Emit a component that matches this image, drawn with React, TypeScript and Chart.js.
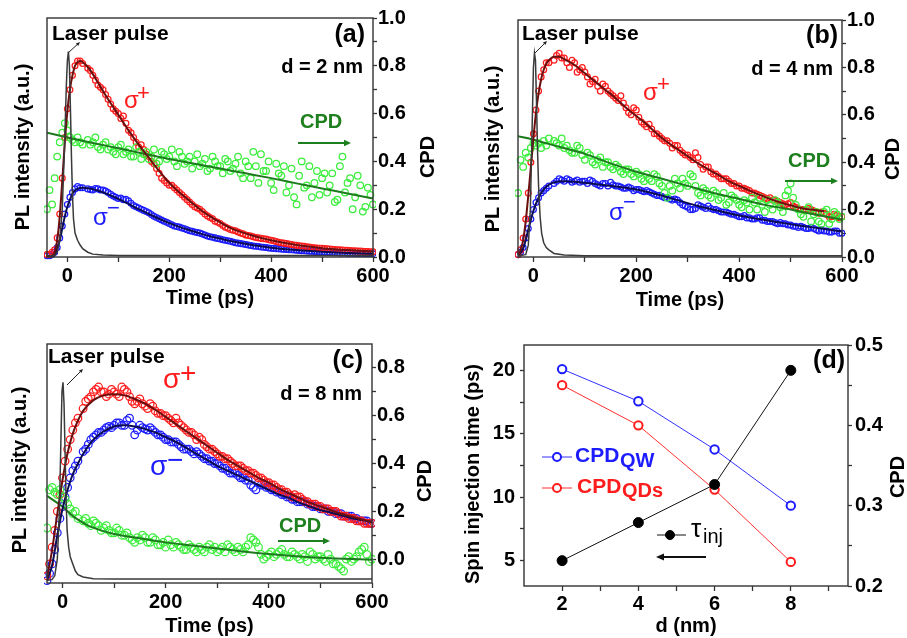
import React, { useEffect, useRef } from 'react';
import { Chart, registerables } from 'chart.js';

Chart.register(...registerables);

const FONT = 'Arial, "Liberation Sans", Helvetica, sans-serif';

// ---------------- DATA ----------------
// common tail of the time axis (ps) and the in-between sampling times
const T_TAIL = [40, 50, 60, 70, 80, 90, 100, 110, 120, 130, 140, 150, 160, 170, 180, 190, 200, 210, 220, 230, 240, 250, 260, 270, 280, 290, 300, 310, 320, 330, 340, 350, 360, 370, 380, 390, 400, 410, 420, 430, 440, 450, 460, 470, 480, 490, 500, 510, 520, 530, 540, 550, 560, 570, 580, 590, 600];
const T_HALF = [45, 55, 65, 75, 85, 95, 105, 115, 125, 135, 145, 155, 165, 175, 185, 195, 205, 215, 225, 235, 245, 255, 265, 275, 285, 295, 305, 315, 325, 335, 345, 355, 365, 375, 385, 395, 405, 415, 425, 435, 445, 455, 465, 475, 485, 495, 505, 515, 525, 535, 545, 555, 565, 575, 585, 595];

// tick values / labels
const X_TICKS_PS = [0, 100, 200, 300, 400, 500, 600];
const X_LABELS_PS = [0, 200, 400, 600];
const CPD_TICKS_AB = [0, 0.1, 0.2, 0.3, 0.4, 0.5, 0.6, 0.7, 0.8, 0.9, 1.0];
const CPD_LABELS_AB = [0, 0.2, 0.4, 0.6, 0.8, 1.0];
const CPD_TICKS_C = [0, 0.1, 0.2, 0.3, 0.4, 0.5, 0.6, 0.7, 0.8];
const CPD_LABELS_C = [0, 0.2, 0.4, 0.6, 0.8];
const D_X_TICKS = [2, 3, 4, 5, 6, 7, 8, 9];
const D_X_LABELS = [2, 4, 6, 8];
const D_TAU_TICKS = [5, 7.5, 10, 12.5, 15, 17.5, 20];
const D_TAU_LABELS = [5, 10, 15, 20];
const D_CPD_TICKS = [0.2, 0.25, 0.3, 0.35, 0.4, 0.45, 0.5];
const D_CPD_LABELS = [0.2, 0.3, 0.4, 0.5];

// ----- (a) d = 2 nm -----
const A_TIME = [-40, -35, -30, -25, -20, -15, -10, -5, 0, 5, 10, 15, 20, 25, 30, ...T_TAIL];
const A_SIGP = [0.01, 0.01, 0.02, 0.03, 0.08, 0.18, 0.33, 0.50, 0.62, 0.70, 0.76, 0.80, 0.82, 0.82, 0.81,
  0.79, 0.76, 0.72, 0.70, 0.66, 0.62,
  0.60, 0.59, 0.53, 0.50, 0.46, 0.45, 0.42, 0.39, 0.35, 0.32,
  0.30, 0.29, 0.27, 0.25, 0.23, 0.21, 0.20, 0.18, 0.165, 0.15,
  0.14, 0.125, 0.115, 0.11, 0.10, 0.092, 0.088, 0.082, 0.078, 0.075,
  0.07, 0.065, 0.06, 0.056, 0.052, 0.049, 0.046, 0.043, 0.04, 0.038,
  0.036, 0.034, 0.032, 0.03, 0.029, 0.028, 0.026, 0.025, 0.024, 0.023,
  0.022];
const A_SIGP_HALF = [0.78, 0.74, 0.71, 0.68, 0.64, 0.61,
  0.58, 0.56, 0.52, 0.48, 0.47, 0.43, 0.40, 0.37, 0.33, 0.31,
  0.30, 0.28, 0.26, 0.24, 0.22, 0.205, 0.19, 0.172, 0.16, 0.145,
  0.132, 0.12, 0.112, 0.105, 0.097, 0.09, 0.085, 0.08, 0.076, 0.072,
  0.068, 0.062, 0.058, 0.054, 0.05, 0.047, 0.045, 0.042, 0.039, 0.037,
  0.035, 0.033, 0.031, 0.03, 0.028, 0.027, 0.026, 0.025, 0.023, 0.022];
const A_SIGM = [0.005, 0.005, 0.01, 0.02, 0.04, 0.08, 0.13, 0.18, 0.22, 0.25, 0.27, 0.285, 0.295, 0.29, 0.29,
  0.285, 0.28, 0.285, 0.28, 0.27, 0.255,
  0.245, 0.24, 0.235, 0.215, 0.205, 0.195, 0.185, 0.17, 0.16, 0.15,
  0.14, 0.13, 0.125, 0.118, 0.11, 0.105, 0.1, 0.092, 0.085, 0.08,
  0.075, 0.07, 0.066, 0.06, 0.056, 0.052, 0.048, 0.045, 0.042, 0.04,
  0.037, 0.035, 0.033, 0.031, 0.03, 0.028, 0.026, 0.025, 0.024, 0.022,
  0.021, 0.02, 0.019, 0.018, 0.017, 0.016, 0.016, 0.015, 0.015, 0.014,
  0.014];
const A_SIGM_HALF = [0.282, 0.287, 0.28, 0.276, 0.262, 0.25,
  0.247, 0.242, 0.225, 0.21, 0.2, 0.19, 0.178, 0.165, 0.155, 0.145,
  0.135, 0.128, 0.121, 0.114, 0.108, 0.102, 0.096, 0.088, 0.083, 0.077,
  0.072, 0.068, 0.063, 0.058, 0.054, 0.05, 0.046, 0.044, 0.041, 0.038,
  0.036, 0.034, 0.032, 0.03, 0.029, 0.027, 0.026, 0.024, 0.023, 0.022,
  0.02, 0.019, 0.018, 0.017, 0.017, 0.016, 0.015, 0.015, 0.014, 0.014];
const A_CPD = [0.20, 0.28, 0.22, 0.33, 0.42, 0.48, 0.52, 0.56, 0.53, 0.50, 0.49, 0.48, 0.50, 0.48, 0.47,
  0.49, 0.48, 0.46, 0.47, 0.45, 0.44,
  0.46, 0.43, 0.45, 0.42, 0.44, 0.43, 0.41, 0.45, 0.40, 0.43,
  0.42, 0.40, 0.44, 0.39, 0.42, 0.40, 0.38, 0.41, 0.37, 0.40,
  0.38, 0.41, 0.36, 0.39, 0.35, 0.40, 0.33, 0.38, 0.43, 0.36,
  0.31, 0.39, 0.34, 0.27, 0.37, 0.22, 0.40, 0.30, 0.25, 0.36,
  0.33, 0.27, 0.35, 0.24, 0.42, 0.31, 0.20, 0.34, 0.19, 0.29,
  0.22];
const A_CPD_HALF = [0.47, 0.50, 0.45, 0.48, 0.46, 0.43,
  0.47, 0.44, 0.42, 0.46, 0.41, 0.44, 0.42, 0.39, 0.44, 0.41,
  0.45, 0.38, 0.42, 0.40, 0.37, 0.43, 0.39, 0.36, 0.42, 0.38,
  0.35, 0.40, 0.37, 0.42, 0.33, 0.38, 0.44, 0.31, 0.36, 0.40,
  0.28, 0.35, 0.38, 0.30, 0.25, 0.34, 0.29, 0.38, 0.31, 0.26,
  0.35, 0.30, 0.23, 0.38, 0.27, 0.33, 0.25, 0.30, 0.21, 0.26];
const A_FIT_T = [-40, -30, -25, -20, -15, -10, -5, 0, 5, 10, 15, 20, 25, 30, 40, 50, 60, 80, 100, 120, 140, 160, 180, 200, 220, 240, 260, 280, 300, 320, 340, 360, 380, 400, 450, 500, 550, 600];
const A_SIGP_FIT = [0, 0.005, 0.02, 0.07, 0.17, 0.32, 0.48, 0.61, 0.70, 0.76, 0.80, 0.815, 0.82, 0.815, 0.795, 0.765, 0.73, 0.66, 0.595, 0.53, 0.47, 0.415, 0.36, 0.31, 0.27, 0.235, 0.2, 0.17, 0.145, 0.122, 0.105, 0.092, 0.08, 0.07, 0.05, 0.037, 0.029, 0.023];
const A_SIGM_FIT = [0, 0.003, 0.01, 0.035, 0.07, 0.12, 0.17, 0.21, 0.24, 0.265, 0.278, 0.285, 0.289, 0.29, 0.288, 0.284, 0.278, 0.262, 0.243, 0.222, 0.2, 0.18, 0.16, 0.142, 0.126, 0.112, 0.099, 0.087, 0.077, 0.067, 0.059, 0.051, 0.045, 0.039, 0.029, 0.022, 0.017, 0.014];
const A_CPD_FIT_T = [-40, 0, 50, 100, 150, 200, 250, 300, 350, 400, 450, 500, 550, 600];
const A_CPD_FIT = [0.52, 0.50, 0.477, 0.455, 0.432, 0.41, 0.39, 0.37, 0.35, 0.33, 0.308, 0.287, 0.266, 0.245];
const A_LASER_T = [-40, -25, -20, -15, -10, -5, -2, 0, 2, 4, 6, 8, 10, 12, 15, 20, 25, 30, 40, 50, 70, 100, 600];
const A_LASER = [0.005, 0.005, 0.02, 0.07, 0.2, 0.5, 0.72, 0.82, 0.86, 0.8, 0.62, 0.42, 0.26, 0.16, 0.1, 0.07, 0.05, 0.035, 0.02, 0.012, 0.008, 0.006, 0.006];

// ----- (b) d = 4 nm -----
const B_TIME = [-30, -25, -20, -15, -10, -5, 0, 5, 10, 15, 20, 25, 30, ...T_TAIL];
const B_SIGP = [0.01, 0.03, 0.08, 0.16, 0.27, 0.40, 0.52, 0.62, 0.70, 0.76, 0.79, 0.82, 0.82,
  0.83, 0.86, 0.84, 0.80, 0.82, 0.79,
  0.78, 0.73, 0.75, 0.70, 0.72, 0.69, 0.67, 0.68, 0.63, 0.60,
  0.62, 0.57, 0.55, 0.54, 0.52, 0.50, 0.49, 0.46, 0.47, 0.44,
  0.43, 0.41, 0.42, 0.37, 0.38, 0.35, 0.34, 0.33, 0.32, 0.31,
  0.30, 0.29, 0.28, 0.27, 0.26, 0.25, 0.25, 0.24, 0.23, 0.22,
  0.23, 0.21, 0.20, 0.20, 0.20, 0.19, 0.19, 0.18, 0.17, 0.175,
  0.17];
const B_SIGP_HALF = [0.85, 0.84, 0.82, 0.83, 0.78, 0.80,
  0.76, 0.74, 0.72, 0.73, 0.70, 0.68, 0.66, 0.65, 0.61, 0.63,
  0.59, 0.56, 0.56, 0.52, 0.51, 0.49, 0.48, 0.47, 0.45, 0.43,
  0.42, 0.44, 0.39, 0.38, 0.36, 0.35, 0.33, 0.33, 0.31, 0.30,
  0.29, 0.285, 0.27, 0.265, 0.255, 0.245, 0.24, 0.235, 0.225, 0.225,
  0.215, 0.205, 0.2, 0.205, 0.195, 0.185, 0.185, 0.17, 0.18, 0.165];
const B_SIGM = [0.01, 0.02, 0.04, 0.08, 0.12, 0.16, 0.20, 0.23, 0.25, 0.27, 0.28, 0.29, 0.30,
  0.31, 0.33, 0.32, 0.325, 0.32, 0.315,
  0.32, 0.325, 0.31, 0.30, 0.31, 0.315, 0.30, 0.295, 0.29, 0.29,
  0.285, 0.28, 0.28, 0.27, 0.26, 0.255, 0.25, 0.24, 0.24, 0.22,
  0.21, 0.20, 0.22, 0.21, 0.215, 0.20, 0.195, 0.19, 0.185, 0.18,
  0.17, 0.175, 0.165, 0.16, 0.165, 0.155, 0.15, 0.145, 0.145, 0.14,
  0.135, 0.13, 0.13, 0.12, 0.125, 0.115, 0.115, 0.11, 0.105, 0.11,
  0.10];
const B_SIGM_HALF = [0.32, 0.325, 0.33, 0.315, 0.325, 0.32,
  0.31, 0.32, 0.305, 0.31, 0.30, 0.305, 0.3, 0.29, 0.295, 0.28,
  0.285, 0.275, 0.275, 0.265, 0.26, 0.25, 0.245, 0.245, 0.23, 0.215,
  0.2, 0.205, 0.215, 0.205, 0.205, 0.2, 0.19, 0.19, 0.18, 0.175,
  0.17, 0.165, 0.16, 0.165, 0.155, 0.15, 0.15, 0.14, 0.14, 0.135,
  0.13, 0.125, 0.125, 0.12, 0.12, 0.11, 0.11, 0.105, 0.11, 0.10];
const B_CPD = [0.27, 0.41, 0.38, 0.44, 0.42, 0.46, 0.48, 0.47, 0.48, 0.46, 0.49, 0.47, 0.50,
  0.49, 0.47, 0.46, 0.45, 0.44, 0.46,
  0.41, 0.43, 0.39, 0.42, 0.40, 0.38, 0.39, 0.36, 0.37, 0.35,
  0.36, 0.33, 0.35, 0.32, 0.34, 0.30, 0.25, 0.28, 0.31, 0.33,
  0.30, 0.34, 0.27, 0.29, 0.26, 0.28, 0.24, 0.27, 0.23, 0.25,
  0.22, 0.24, 0.20, 0.23, 0.25, 0.19, 0.22, 0.24, 0.21, 0.26,
  0.31, 0.22, 0.18, 0.20, 0.15, 0.19, 0.14, 0.20, 0.16, 0.18,
  0.17];
const B_CPD_HALF = [0.48, 0.50, 0.47, 0.44, 0.47, 0.43,
  0.44, 0.40, 0.41, 0.38, 0.40, 0.37, 0.38, 0.35, 0.37, 0.34,
  0.35, 0.32, 0.33, 0.35, 0.31, 0.27, 0.30, 0.33, 0.29, 0.31,
  0.35, 0.30, 0.26, 0.28, 0.25, 0.27, 0.25, 0.22, 0.26, 0.24,
  0.21, 0.23, 0.25, 0.20, 0.22, 0.24, 0.20, 0.23, 0.19, 0.28,
  0.25, 0.20, 0.17, 0.21, 0.18, 0.15, 0.19, 0.14, 0.19, 0.16];
const B_SIGP_FIT_T = [-30, -25, -20, -15, -10, -5, 0, 5, 10, 15, 20, 25, 30, 40, 50, 60, 80, 100, 120, 140, 160, 180, 200, 220, 240, 260, 280, 300, 320, 340, 360, 380, 400, 420, 440, 460, 480, 500, 520, 540, 565];
const B_SIGP_FIT = [0.005, 0.03, 0.07, 0.15, 0.26, 0.38, 0.50, 0.61, 0.69, 0.75, 0.79, 0.815, 0.83, 0.845, 0.845, 0.835, 0.81, 0.775, 0.74, 0.705, 0.67, 0.63, 0.595, 0.56, 0.52, 0.485, 0.455, 0.425, 0.395, 0.37, 0.345, 0.32, 0.3, 0.28, 0.262, 0.245, 0.23, 0.218, 0.207, 0.2, 0.193];
const B_SIGM_FIT_T = [-30, -20, -10, 0, 10, 20, 30, 40, 60, 80, 100, 130, 160, 200, 240, 280, 320, 360, 400, 440, 480, 520, 560, 600];
const B_SIGM_FIT = [0.005, 0.035, 0.115, 0.195, 0.25, 0.285, 0.305, 0.315, 0.32, 0.318, 0.313, 0.305, 0.297, 0.285, 0.265, 0.24, 0.215, 0.195, 0.175, 0.16, 0.145, 0.132, 0.12, 0.108];
const B_CPD_FIT_T = [-30, 0, 50, 100, 150, 200, 250, 300, 350, 400, 450, 500, 550, 600];
const B_CPD_FIT = [0.51, 0.495, 0.465, 0.435, 0.395, 0.36, 0.33, 0.30, 0.27, 0.245, 0.22, 0.20, 0.178, 0.158];
const B_LASER_T = [-30, -15, -10, -6, -3, 0, 2, 4, 6, 8, 10, 13, 16, 20, 25, 30, 40, 60, 100, 600];
const B_LASER = [0.005, 0.01, 0.05, 0.2, 0.5, 0.8, 0.86, 0.83, 0.65, 0.45, 0.3, 0.17, 0.1, 0.06, 0.04, 0.03, 0.015, 0.008, 0.005, 0.005];

// ----- (c) d = 8 nm -----
const C_TIME = [-30, -25, -20, -15, -10, -5, 0, 5, 10, 15, 20, 25, 30, ...T_TAIL];
const C_SIGP = [0.03, 0.08, 0.15, 0.22, 0.30, 0.37, 0.44, 0.51, 0.56, 0.60, 0.64, 0.67, 0.69,
  0.73, 0.77, 0.80, 0.82, 0.80, 0.79,
  0.80, 0.78, 0.81, 0.78, 0.75, 0.77, 0.74, 0.75, 0.72, 0.71,
  0.70, 0.68, 0.69, 0.66, 0.64, 0.63, 0.60, 0.60, 0.57, 0.56,
  0.54, 0.53, 0.52, 0.50, 0.49, 0.48, 0.47, 0.46, 0.44, 0.43,
  0.42, 0.41, 0.39, 0.38, 0.37, 0.37, 0.36, 0.34, 0.33, 0.33,
  0.32, 0.31, 0.30, 0.30, 0.28, 0.28, 0.27, 0.26, 0.26, 0.25,
  0.25];
const C_SIGP_HALF = [0.76, 0.78, 0.81, 0.80, 0.78, 0.81,
  0.79, 0.82, 0.80, 0.76, 0.76, 0.75, 0.73, 0.74, 0.71, 0.70,
  0.69, 0.67, 0.67, 0.65, 0.63, 0.62, 0.61, 0.58, 0.56, 0.55,
  0.53, 0.52, 0.51, 0.49, 0.49, 0.47, 0.46, 0.45, 0.44, 0.42,
  0.41, 0.40, 0.39, 0.38, 0.36, 0.36, 0.35, 0.34, 0.33, 0.32,
  0.31, 0.31, 0.30, 0.29, 0.28, 0.27, 0.27, 0.26, 0.25, 0.25];
const C_SIGM = [0.01, 0.04, 0.08, 0.14, 0.21, 0.27, 0.32, 0.36, 0.40, 0.44, 0.47, 0.49, 0.51,
  0.55, 0.58, 0.61, 0.63, 0.64, 0.655,
  0.66, 0.67, 0.66, 0.69, 0.62, 0.66, 0.645, 0.65, 0.63, 0.62,
  0.60, 0.59, 0.59, 0.57, 0.56, 0.55, 0.55, 0.53, 0.52, 0.51,
  0.50, 0.48, 0.47, 0.46, 0.45, 0.44, 0.43, 0.40, 0.42, 0.41,
  0.40, 0.39, 0.38, 0.37, 0.36, 0.35, 0.34, 0.34, 0.33, 0.32,
  0.31, 0.31, 0.30, 0.29, 0.29, 0.28, 0.28, 0.27, 0.26, 0.26,
  0.25];
const C_SIGM_HALF = [0.56, 0.60, 0.62, 0.63, 0.65, 0.65,
  0.67, 0.66, 0.68, 0.66, 0.64, 0.65, 0.64, 0.64, 0.62, 0.61,
  0.60, 0.59, 0.58, 0.56, 0.56, 0.54, 0.54, 0.52, 0.51, 0.50,
  0.49, 0.48, 0.46, 0.46, 0.44, 0.43, 0.41, 0.39, 0.41, 0.40,
  0.39, 0.38, 0.37, 0.36, 0.35, 0.34, 0.34, 0.33, 0.32, 0.32,
  0.31, 0.30, 0.30, 0.29, 0.28, 0.28, 0.27, 0.26, 0.26, 0.25];
const C_CPD = [0.13, 0.29, 0.30, 0.28, 0.27, 0.29, 0.26, 0.25, 0.23, 0.21, 0.19, 0.20, 0.17,
  0.16, 0.15, 0.16, 0.14, 0.13, 0.12,
  0.11, 0.12, 0.10, 0.09, 0.07, 0.08, 0.09, 0.07, 0.08, 0.06,
  0.05, 0.06, 0.07, 0.05, 0.04, 0.05, 0.03, 0.04, 0.05, 0.04,
  0.03, 0.05, 0.06, 0.04, 0.05, 0.03, 0.06, 0.08, 0.05, 0.00,
  0.02, 0.01, 0.03, 0.02, 0.01, 0.02, 0.00, 0.01, 0.03, 0.00,
  0.01, -0.01, 0.00, -0.02, -0.04, 0.00, -0.01, 0.01, 0.04, 0.02,
  0.00];
const C_CPD_HALF = [0.17, 0.14, 0.15, 0.12, 0.14, 0.11,
  0.13, 0.10, 0.11, 0.08, 0.09, 0.10, 0.07, 0.09, 0.06, 0.07,
  0.08, 0.05, 0.06, 0.04, 0.06, 0.04, 0.05, 0.03, 0.06, 0.05,
  0.04, 0.03, 0.05, 0.03, 0.04, 0.05, 0.09, 0.07, 0.02, 0.01,
  0.03, 0.02, 0.04, 0.01, 0.03, 0.01, 0.02, -0.01, 0.02, 0.01,
  0.00, 0.02, -0.02, -0.03, -0.05, 0.01, 0.00, 0.03, 0.05, -0.01];
const C_FIT_T = [-30, -20, -10, 0, 10, 20, 30, 40, 60, 80, 100, 120, 140, 160, 180, 200, 220, 240, 260, 280, 300, 320, 340, 360, 380, 400, 420, 440, 460, 480, 500, 520, 540, 560, 580, 600];
const C_SIGP_FIT = [0.02, 0.14, 0.29, 0.43, 0.545, 0.625, 0.68, 0.72, 0.765, 0.785, 0.79, 0.785, 0.77, 0.75, 0.725, 0.695, 0.665, 0.635, 0.605, 0.575, 0.545, 0.515, 0.49, 0.465, 0.44, 0.42, 0.395, 0.375, 0.355, 0.335, 0.32, 0.305, 0.29, 0.278, 0.266, 0.255];
const C_SIGM_FIT = [0.01, 0.075, 0.2, 0.31, 0.39, 0.455, 0.5, 0.54, 0.6, 0.635, 0.655, 0.66, 0.655, 0.645, 0.63, 0.61, 0.59, 0.565, 0.54, 0.515, 0.49, 0.47, 0.45, 0.43, 0.41, 0.39, 0.37, 0.355, 0.335, 0.32, 0.305, 0.295, 0.283, 0.272, 0.263, 0.255];
const C_CPD_FIT_T = [-30, -20, -10, 0, 10, 20, 30, 50, 75, 100, 140, 200, 260, 330, 400, 460, 530, 600];
const C_CPD_FIT = [0.265, 0.25, 0.235, 0.22, 0.2, 0.18, 0.165, 0.14, 0.12, 0.105, 0.09, 0.07, 0.055, 0.037, 0.021, 0.011, 0.003, -0.003];
const C_LASER_T = [-30, -20, -15, -10, -6, -3, -1, 1, 3, 5, 7, 9, 12, 15, 20, 25, 30, 40, 60, 100, 600];
const C_LASER = [0.01, 0.015, 0.03, 0.1, 0.3, 0.6, 0.8, 0.84, 0.75, 0.55, 0.35, 0.22, 0.15, 0.11, 0.08, 0.05, 0.035, 0.025, 0.018, 0.017, 0.017];

// ----- (d) -----
const D_THICKNESS = [2, 4, 6, 8];
const D_CPD_QW = [0.47, 0.43, 0.37, 0.30];
const D_CPD_QDS = [0.45, 0.40, 0.32, 0.23];
const D_TAU_INJ = [5, 8, 11, 20];

// ---------------- STYLE ----------------
const COL = {
  red: '#ff1c1c', redFit: '#6a0e0e', blue: '#1c1cff', blueFit: '#0c0c52',
  green: '#3ded3d', greenFit: '#1d7a1d', greenText: '#1e7f1e', laser: '#3a3a3a', frame: '#333333',
};

const xy = (xs: number[], ys: number[]) => xs.map((x, i) => ({ x, y: ys[i] }));

type Note =
  | { k: 't'; s: string; x: number; y: number; f: number; b?: boolean; c?: string; a?: CanvasTextAlign; r?: number }
  | { k: 'a'; x1: number; y1: number; x2: number; y2: number; c: string; w: number; h: number }
  | { k: 'l'; x1: number; y1: number; x2: number; y2: number; c: string; w: number }
  | { k: 'o'; x: number; y: number; r: number; c: string; fill: string; w: number };

function notesPlugin(notes: Note[]) {
  return {
    id: 'notes',
    afterDraw(chart: any) {
      const ctx: CanvasRenderingContext2D = chart.ctx;
      for (const n of notes) {
        ctx.save();
        if (n.k === 't') {
          ctx.fillStyle = n.c || '#000';
          ctx.font = `${n.b ? 'bold ' : ''}${n.f}px ${FONT}`;
          ctx.textAlign = n.a || 'left';
          if (n.r) {
            ctx.translate(n.x, n.y);
            ctx.rotate((n.r * Math.PI) / 180);
            ctx.textAlign = 'center';
            ctx.textBaseline = 'middle';
            ctx.fillText(n.s, 0, 0);
          } else {
            ctx.textBaseline = 'alphabetic';
            ctx.fillText(n.s, n.x, n.y);
          }
        } else if (n.k === 'l') {
          ctx.strokeStyle = n.c; ctx.lineWidth = n.w;
          ctx.beginPath(); ctx.moveTo(n.x1, n.y1); ctx.lineTo(n.x2, n.y2); ctx.stroke();
        } else if (n.k === 'a') {
          const ang = Math.atan2(n.y2 - n.y1, n.x2 - n.x1);
          const bx = n.x2 - n.h * Math.cos(ang), by = n.y2 - n.h * Math.sin(ang);
          ctx.strokeStyle = n.c; ctx.fillStyle = n.c; ctx.lineWidth = n.w;
          ctx.beginPath(); ctx.moveTo(n.x1, n.y1); ctx.lineTo(bx, by); ctx.stroke();
          const hw = n.h * 0.45;
          ctx.beginPath();
          ctx.moveTo(n.x2, n.y2);
          ctx.lineTo(bx + hw * Math.sin(ang), by - hw * Math.cos(ang));
          ctx.lineTo(bx - hw * Math.sin(ang), by + hw * Math.cos(ang));
          ctx.closePath(); ctx.fill();
        } else if (n.k === 'o') {
          ctx.beginPath(); ctx.arc(n.x, n.y, n.r, 0, Math.PI * 2);
          ctx.fillStyle = n.fill; ctx.fill();
          ctx.strokeStyle = n.c; ctx.lineWidth = n.w; ctx.stroke();
        }
        ctx.restore();
      }
    },
  };
}

const framePlugin = {
  id: 'frame',
  afterDatasetsDraw(chart: any) {
    const { ctx, chartArea } = chart;
    const { left, top, right, bottom } = chartArea;
    ctx.save();
    ctx.strokeStyle = COL.frame;
    ctx.lineWidth = 1.4;
    ctx.strokeRect(left, top, right - left, bottom - top);
    ctx.restore();
  },
};

const tickFont = { family: FONT, size: 20, weight: 'bold' as const };

function axis(o: {
  pos: 'left' | 'right' | 'bottom'; min: number; max: number; ticks: number[]; labels: number[];
  fmt: (v: number) => string; size: number; tl: number; pad: number; title?: string; titlePad?: number;
}) {
  const horiz = o.pos === 'bottom';
  return {
    type: 'linear',
    position: o.pos,
    min: o.min,
    max: o.max,
    afterBuildTicks: (s: any) => { s.ticks = o.ticks.map((v) => ({ value: v })); },
    afterFit: (s: any) => { if (horiz) s.height = o.size; else s.width = o.size; },
    ticks: {
      autoSkip: false, maxRotation: 0, minRotation: 0, padding: o.pad, color: '#000', font: tickFont,
      callback: (v: any) => (o.labels.some((l) => Math.abs(l - Number(v)) < 1e-9) ? o.fmt(Number(v)) : ''),
    },
    grid: { display: true, drawOnChartArea: false, drawTicks: true, tickLength: o.tl, tickColor: COL.frame, tickWidth: 1.3, color: COL.frame },
    border: { display: false },
    title: o.title
      ? { display: true, text: o.title, color: '#000', font: { family: FONT, size: 20, weight: 'bold' }, padding: { top: 0, bottom: o.titlePad || 0 } }
      : { display: false },
  };
}

const plainAxis = (size: number) => ({
  type: 'linear', position: 'left', min: 0, max: 1,
  afterFit: (s: any) => { s.width = size; },
  ticks: { display: false }, grid: { display: false, drawTicks: false }, border: { display: false },
});

const f0 = (v: number) => String(v);
const f1 = (v: number) => v.toFixed(1);

type PLPanel = {
  time: number[]; sigP: number[]; sigM: number[]; cpd: number[];
  sigPFitT: number[]; sigPFit: number[]; sigMFitT: number[]; sigMFit: number[];
  cpdFitT: number[]; cpdFit: number[]; laserT: number[]; laser: number[];
  xMin: number; cpdMin: number; cpdMax: number; cpdTicks: number[]; cpdLabels: number[];
  leftW: number; rightW: number; bottomH: number; top: number; titlePad: number;
  rPL: number; rCPD: number; notes: Note[];
};

function plConfig(p: PLPanel): any {
  const dots = (label: string, data: any[], color: string, r: number, yAxisID: string, order: number) => ({
    label, data, yAxisID, showLine: false, pointStyle: 'circle', pointRadius: r, pointBorderWidth: 1.25,
    pointBorderColor: color, pointBackgroundColor: 'rgba(0,0,0,0)', borderColor: color, backgroundColor: 'rgba(0,0,0,0)', order, clip: 3,
  });
  const curve = (label: string, data: any[], color: string, w: number, yAxisID: string, order: number, smooth: boolean) => ({
    label, data, yAxisID, borderColor: color, borderWidth: w, pointRadius: 0, fill: false, order, clip: 0,
    cubicInterpolationMode: smooth ? 'monotone' : 'default', tension: 0,
  });
  return {
    type: 'line',
    data: {
      datasets: [
        curve('Laser pulse', xy(p.laserT, p.laser), COL.laser, 1.5, 'y', 0, false),
        curve('σ+ fit', xy(p.sigPFitT, p.sigPFit), COL.redFit, 2, 'y', 1, true),
        curve('σ− fit', xy(p.sigMFitT, p.sigMFit), COL.blueFit, 2, 'y', 1, true),
        curve('CPD fit', xy(p.cpdFitT, p.cpdFit), COL.greenFit, 2, 'yR', 1, true),
        dots('σ+', xy(p.time, p.sigP), COL.red, p.rPL, 'y', 3),
        dots('σ−', xy(p.time, p.sigM), COL.blue, p.rPL, 'y', 4),
        dots('CPD', xy(p.time, p.cpd), COL.green, p.rCPD, 'yR', 2),
      ],
    },
    options: {
      responsive: false, animation: false, devicePixelRatio: 1, events: [],
      layout: { padding: { top: p.top, left: 0, right: 0, bottom: 0 } },
      plugins: { legend: { display: false }, tooltip: { enabled: false } },
      scales: {
        x: axis({ pos: 'bottom', min: p.xMin, max: 600, ticks: X_TICKS_PS, labels: X_LABELS_PS, fmt: f0, size: p.bottomH, tl: 5, pad: 2, title: 'Time (ps)', titlePad: p.titlePad }),
        y: plainAxis(p.leftW),
        yR: axis({ pos: 'right', min: p.cpdMin, max: p.cpdMax, ticks: p.cpdTicks, labels: p.cpdLabels, fmt: f1, size: p.rightW, tl: 4, pad: 1 }),
      },
    },
    plugins: [framePlugin, notesPlugin(p.notes)],
  };
}

const sigmaNotes = (color: string, sup: string, sx: number, sy: number, px: number, py: number, fs: number, ps: number): Note[] => [
  { k: 't', s: 'σ', x: sx, y: sy, f: fs, c: color },
  { k: 't', s: sup, x: px, y: py, f: ps, c: color },
];

const buildA = () => plConfig({
  time: [...A_TIME, ...T_HALF], sigP: [...A_SIGP, ...A_SIGP_HALF], sigM: [...A_SIGM, ...A_SIGM_HALF], cpd: [...A_CPD, ...A_CPD_HALF],
  sigPFitT: A_FIT_T, sigPFit: A_SIGP_FIT, sigMFitT: A_FIT_T, sigMFit: A_SIGM_FIT,
  cpdFitT: A_CPD_FIT_T, cpdFit: A_CPD_FIT, laserT: A_LASER_T, laser: A_LASER,
  xMin: -40, cpdMin: 0, cpdMax: 1, cpdTicks: CPD_TICKS_AB, cpdLabels: CPD_LABELS_AB,
  leftW: 47, rightW: 77, bottomH: 61, top: 18, titlePad: 8, rPL: 2.9, rCPD: 3.3,
  notes: [
    { k: 't', s: 'Laser pulse', x: 52, y: 40, f: 21, b: true },
    { k: 'a', x1: 68, y1: 53, x2: 80, y2: 42, c: '#222', w: 1, h: 4 },
    { k: 't', s: '(a)', x: 365, y: 42, f: 25, b: true, a: 'right' },
    { k: 't', s: 'd = 2 nm', x: 363, y: 73, f: 20, b: true, a: 'right' },
    ...sigmaNotes(COL.red, '+', 124, 108, 137, 100, 24, 22),
    ...sigmaNotes(COL.blue, '−', 93, 225, 107, 215, 24, 22),
    { k: 't', s: 'CPD', x: 300, y: 128, f: 20, b: true, c: COL.greenText },
    { k: 'a', x1: 298, y1: 143, x2: 351, y2: 143, c: COL.greenText, w: 2, h: 7 },
    { k: 't', s: 'PL intensity (a.u.)', x: 23, y: 147, f: 20, b: true, r: -90 },
    { k: 't', s: 'CPD', x: 428, y: 157, f: 20, b: true, r: -90 },
  ],
});

const buildB = () => plConfig({
  time: [...B_TIME, ...T_HALF], sigP: [...B_SIGP, ...B_SIGP_HALF], sigM: [...B_SIGM, ...B_SIGM_HALF], cpd: [...B_CPD, ...B_CPD_HALF],
  sigPFitT: B_SIGP_FIT_T, sigPFit: B_SIGP_FIT, sigMFitT: B_SIGM_FIT_T, sigMFit: B_SIGM_FIT,
  cpdFitT: B_CPD_FIT_T, cpdFit: B_CPD_FIT, laserT: B_LASER_T, laser: B_LASER,
  xMin: -30, cpdMin: 0, cpdMax: 1, cpdTicks: CPD_TICKS_AB, cpdLabels: CPD_LABELS_AB,
  leftW: 68, rightW: 65, bottomH: 61, top: 20, titlePad: 6, rPL: 2.9, rCPD: 3.3,
  notes: [
    { k: 't', s: 'Laser pulse', x: 72, y: 40, f: 21, b: true },
    { k: 'a', x1: 85, y1: 53, x2: 97, y2: 41, c: '#222', w: 1, h: 4 },
    { k: 't', s: '(b)', x: 388, y: 43, f: 25, b: true, a: 'right' },
    { k: 't', s: 'd = 4 nm', x: 383, y: 75, f: 20, b: true, a: 'right' },
    ...sigmaNotes(COL.red, '+', 193, 100, 207, 91, 24, 22),
    ...sigmaNotes(COL.blue, '−', 159, 220, 173, 209, 24, 22),
    { k: 't', s: 'CPD', x: 338, y: 167, f: 20, b: true, c: COL.greenText },
    { k: 'a', x1: 335, y1: 181, x2: 388, y2: 181, c: COL.greenText, w: 2, h: 7 },
    { k: 't', s: 'PL intensity (a.u.)', x: 43, y: 149, f: 20, b: true, r: -90 },
    { k: 't', s: 'CPD', x: 443, y: 159, f: 20, b: true, r: -90 },
  ],
});

const buildC = () => plConfig({
  time: [...C_TIME, ...T_HALF], sigP: [...C_SIGP, ...C_SIGP_HALF], sigM: [...C_SIGM, ...C_SIGM_HALF], cpd: [...C_CPD, ...C_CPD_HALF],
  sigPFitT: C_FIT_T, sigPFit: C_SIGP_FIT, sigMFitT: C_FIT_T, sigMFit: C_SIGM_FIT,
  cpdFitT: C_CPD_FIT_T, cpdFit: C_CPD_FIT, laserT: C_LASER_T, laser: C_LASER,
  xMin: -30, cpdMin: -0.1, cpdMax: 0.9, cpdTicks: CPD_TICKS_C, cpdLabels: CPD_LABELS_C,
  leftW: 47, rightW: 78, bottomH: 55, top: 26, titlePad: 0, rPL: 3.8, rCPD: 3.8,
  notes: [
    { k: 't', s: 'Laser pulse', x: 48, y: 45, f: 21, b: true },
    { k: 'a', x1: 67, y1: 67, x2: 83, y2: 51, c: '#222', w: 1, h: 4 },
    { k: 't', s: '(c)', x: 363, y: 50, f: 25, b: true, a: 'right' },
    { k: 't', s: 'd = 8 nm', x: 362, y: 82, f: 20, b: true, a: 'right' },
    ...sigmaNotes(COL.red, '+', 163, 70, 180, 64, 28, 28),
    ...sigmaNotes(COL.blue, '−', 150, 157, 167, 151, 28, 28),
    { k: 't', s: 'CPD', x: 279, y: 214, f: 20, b: true, c: COL.greenText },
    { k: 'a', x1: 278, y1: 223, x2: 330, y2: 223, c: COL.greenText, w: 2, h: 7 },
    { k: 't', s: 'PL intensity (a.u.)', x: 20, y: 152, f: 20, b: true, r: -90 },
    { k: 't', s: 'CPD', x: 425, y: 163, f: 20, b: true, r: -90 },
  ],
});

const buildD = (): any => ({
  type: 'line',
  data: {
    datasets: [
      {
        label: 'CPD QW', data: xy(D_THICKNESS, D_CPD_QW), yAxisID: 'yR', borderColor: '#3030ff', borderWidth: 1,
        pointRadius: 4.2, pointBorderWidth: 2, pointBorderColor: COL.blue, pointBackgroundColor: '#fff', tension: 0, order: 2,
      },
      {
        label: 'CPD QDs', data: xy(D_THICKNESS, D_CPD_QDS), yAxisID: 'yR', borderColor: '#ff3030', borderWidth: 1,
        pointRadius: 4.2, pointBorderWidth: 2, pointBorderColor: COL.red, pointBackgroundColor: '#fff', tension: 0, order: 1,
      },
      {
        label: 'τinj', data: xy(D_THICKNESS, D_TAU_INJ), yAxisID: 'y', borderColor: '#111', borderWidth: 1,
        pointRadius: 5, pointBorderWidth: 1, pointBorderColor: '#000', pointBackgroundColor: '#000', tension: 0, order: 0,
      },
    ],
  },
  options: {
    responsive: false, animation: false, devicePixelRatio: 1, events: [],
    layout: { padding: { top: 27, left: 0, right: 0, bottom: 0 } },
    plugins: { legend: { display: false }, tooltip: { enabled: false } },
    scales: {
      x: axis({ pos: 'bottom', min: 1, max: 9.5, ticks: D_X_TICKS, labels: D_X_LABELS, fmt: f0, size: 52, tl: 5, pad: 1, title: 'd (nm)', titlePad: 0 }),
      y: axis({ pos: 'left', min: 3, max: 22, ticks: D_TAU_TICKS, labels: D_TAU_LABELS, fmt: f0, size: 74, tl: 4, pad: 5 }),
      yR: axis({ pos: 'right', min: 0.2, max: 0.5, ticks: D_CPD_TICKS, labels: D_CPD_LABELS, fmt: f1, size: 59, tl: 4, pad: 3 }),
    },
  },
  plugins: [framePlugin, notesPlugin([
    { k: 't', s: '(d)', x: 395, y: 50, f: 25, b: true, a: 'right' },
    { k: 'l', x1: 92, y1: 139, x2: 122, y2: 139, c: '#3030ff', w: 1 },
    { k: 'o', x: 107, y: 139, r: 4, c: COL.blue, fill: '#fff', w: 2 },
    { k: 't', s: 'CPD', x: 125, y: 144, f: 21, b: true, c: COL.blue },
    { k: 't', s: 'QW', x: 170, y: 149, f: 20, b: true, c: COL.blue },
    { k: 'l', x1: 92, y1: 170, x2: 122, y2: 170, c: '#ff3030', w: 1 },
    { k: 'o', x: 107, y: 170, r: 4, c: COL.red, fill: '#fff', w: 2 },
    { k: 't', s: 'CPD', x: 127, y: 175, f: 21, b: true, c: COL.red },
    { k: 't', s: 'QDs', x: 172, y: 179, f: 20, b: true, c: COL.red },
    { k: 'l', x1: 207, y1: 217, x2: 236, y2: 217, c: '#111', w: 1 },
    { k: 'o', x: 220, y: 217, r: 4.5, c: '#000', fill: '#000', w: 1 },
    { k: 't', s: 'τ', x: 241, y: 219, f: 26 },
    { k: 't', s: 'inj', x: 253, y: 225, f: 20 },
    { k: 'a', x1: 256, y1: 239, x2: 206, y2: 239, c: '#111', w: 2, h: 8 },
    { k: 't', s: 'Spin injection time (ps)', x: 23, y: 156, f: 20, b: true, r: -90 },
    { k: 't', s: 'CPD', x: 448, y: 159, f: 20, b: true, r: -90 },
  ])],
});

function Panel(props: { left: number; top: number; width: number; height: number; build: () => any }) {
  const ref = useRef<HTMLCanvasElement>(null);
  useEffect(() => {
    const chart = new Chart(ref.current as HTMLCanvasElement, props.build());
    return () => chart.destroy();
  }, []);
  return (
    <canvas
      ref={ref}
      width={props.width}
      height={props.height}
      style={{ position: 'absolute', left: props.left, top: props.top, width: props.width, height: props.height }}
    />
  );
}

export default function App() {
  return (
    <div style={{ position: 'fixed', left: 0, top: 0, width: 907, height: 638, background: '#fff' }}>
      <Panel left={0} top={0} width={450} height={318} build={buildA} />
      <Panel left={450} top={0} width={457} height={318} build={buildB} />
      <Panel left={0} top={318} width={450} height={320} build={buildC} />
      <Panel left={450} top={318} width={457} height={320} build={buildD} />
    </div>
  );
}
